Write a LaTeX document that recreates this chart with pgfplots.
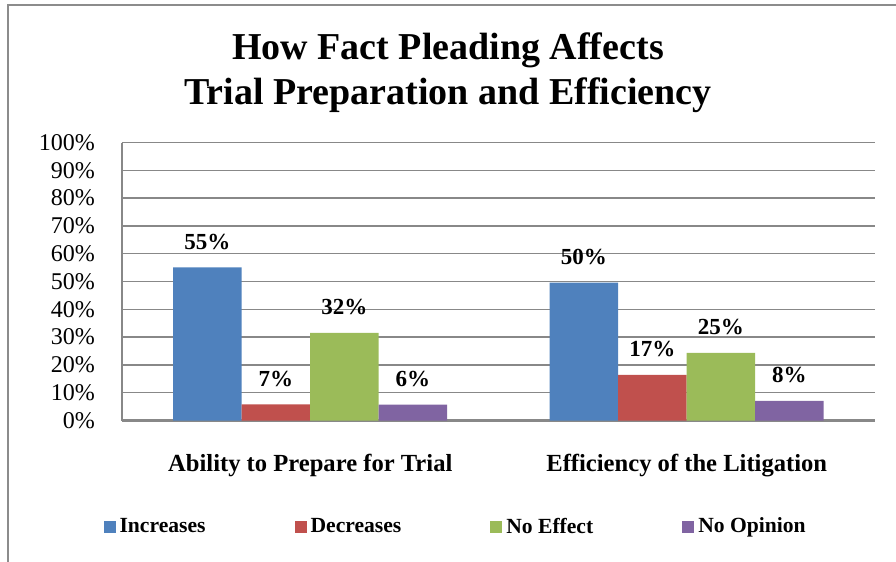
\documentclass[border=0pt]{standalone}
\usepackage{pgfplots}
\pgfplotsset{compat=1.18}
\usepackage{fontspec}
\setmainfont{Liberation Serif}

\definecolor{cInc}{HTML}{4F81BD}
\definecolor{cDec}{HTML}{C0504D}
\definecolor{cNoe}{HTML}{9BBB59}
\definecolor{cNop}{HTML}{8064A2}
\definecolor{gridgray}{HTML}{888888}
\definecolor{framegray}{HTML}{8C8C8C}

\begin{document}
\begin{tikzpicture}
\path[use as bounding box] (0,0) rectangle (448pt,-281pt);
\draw[color=framegray, line width=0.8pt] (4pt,-281pt) -- (4pt,-2.5pt) -- (448pt,-2.5pt);
\node[align=center, font=\fontsize{19}{22.5}\selectfont\bfseries] at (224pt,-36.5pt)
  {How Fact Pleading Affects\\Trial Preparation and Efficiency};
\begin{axis}[
  at={(61pt,-210.25pt)}, anchor=south west,
  scale only axis, width=376.5pt, height=139pt,
  ybar=0pt, bar width=34.25pt,
  xmin=-0.5, xmax=1.5, ymin=0, ymax=100,
  xtick={0,1},
  xticklabels={Ability to Prepare for Trial, Efficiency of the Litigation},
  xticklabel style={font=\fontsize{12.3}{14}\selectfont\bfseries, yshift=-13.5pt},
  ytick={0,10,...,100},
  yticklabel={\pgfmathprintnumber{\tick}\%},
  yticklabel style={font=\fontsize{12}{14}\selectfont, xshift=-10pt},
  /pgf/number format/assume math mode=true,
  major tick length=0pt,
  axis x line*=bottom, axis y line*=left,
  x axis line style={-, color=gridgray, line width=1.2pt},
  y axis line style={-, color=gridgray, line width=0.7pt},
  ymajorgrids, grid style={color=gridgray, line width=0.75pt},
  point meta=explicit symbolic,
  nodes near coords,
  nodes near coords style={font=\fontsize{11.5}{13}\selectfont\bfseries, anchor=base, yshift=9pt, text=black},
  legend columns=4,
  legend style={draw=none, at={(-0.025,-0.383)}, anchor=west, inner sep=0pt,
    font=\fontsize{10.8}{13}\selectfont\bfseries,
    /tikz/every even column/.append style={column sep=42.5pt}},
  legend image code/.code={\fill[#1] (0pt,-3pt) rectangle (6pt,3pt);},
]
\addplot[fill=cInc, draw=none] coordinates {(0,55.1) [55\%] (1,49.6) [50\%]};
\addplot[fill=cDec, draw=none] coordinates {(0,5.8) [7\%] (1,16.4) [17\%]};
\addplot[fill=cNoe, draw=none] coordinates {(0,31.5) [32\%] (1,24.3) [25\%]};
\addplot[fill=cNop, draw=none] coordinates {(0,5.7) [6\%] (1,7.1) [8\%]};
\legend{Increases, Decreases, No Effect, No Opinion}
\end{axis}
\end{tikzpicture}
\end{document}
